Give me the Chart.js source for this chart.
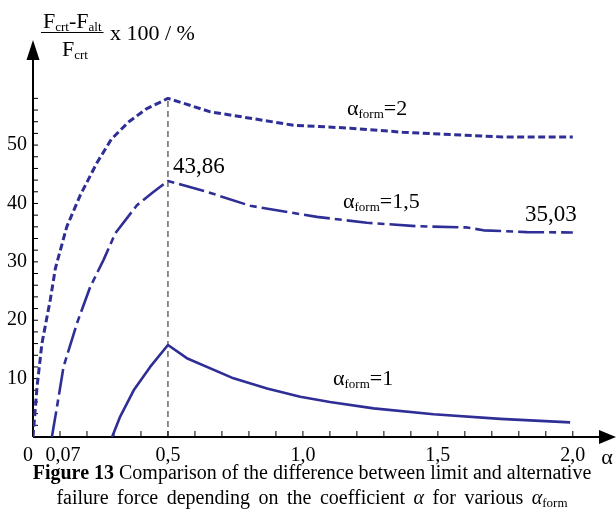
<!DOCTYPE html>
<html>
<head>
<meta charset="utf-8">
<script src="https://cdn.jsdelivr.net/npm/chart.js@4.4.1/dist/chart.umd.min.js"></script>
<style>
  body { margin: 0; background: #fff; }
  #wrap { position: relative; width: 616px; height: 515px; overflow: hidden; }
  #chart { position: absolute; left: 0; top: 0; }
  .caption {
    position: absolute; left: 4px; top: 460px; width: 616px;
    text-align: center; font-family: "Liberation Serif", "Times New Roman", serif;
    font-size: 20px; line-height: 25px; color: #000; white-space: nowrap;
  }
  .caption .l2 { word-spacing: 3.5px; }
  .caption sub { font-size: 13px; vertical-align: -3px; line-height: 0; }
</style>
</head>
<body>
<div id="wrap">
  <canvas id="chart" width="616" height="515"></canvas>
  <div class="caption">
    <b>Figure 13</b> Comparison of the difference between limit and alternative<br>
    <span class="l2">failure force depending on the coefficient <i>α</i> for various <i>α</i><sub>form</sub></span>
  </div>
</div>
<script>
// alpha_form = 1
const form1X = [0.293, 0.323, 0.373, 0.434, 0.5, 0.57, 0.743, 0.867, 0.99, 1.1, 1.262, 1.484, 1.731, 1.99];
const form1Y = [0, 3.5, 8.0, 12.0, 15.75, 13.5, 10.05, 8.3, 6.9, 6.0, 4.9, 3.9, 3.1, 2.5];

// alpha_form = 1,5
const form15X = [0.07, 0.089, 0.113, 0.163, 0.212, 0.261, 0.305, 0.385, 0.447, 0.5, 0.644, 0.805, 1.052, 1.237, 1.422, 1.607, 1.669, 1.83, 2.0];
const form15Y = [0, 5.2, 12.0, 19.5, 25.7, 30.3, 34.9, 39.7, 42.0, 43.86, 42.0, 39.6, 37.7, 36.7, 36.1, 35.9, 35.4, 35.1, 35.03];

// alpha_form = 2
const form2X = [0, 0.015, 0.033, 0.064, 0.083, 0.125, 0.175, 0.236, 0.29, 0.355, 0.42, 0.5, 0.657, 0.805, 0.965, 1.175, 1.37, 1.546, 1.74, 2.0];
const form2Y = [0, 8.6, 16.0, 23.5, 28.9, 36.0, 41.4, 46.9, 51.0, 54.0, 56.2, 58.0, 55.7, 54.6, 53.4, 52.9, 52.2, 51.8, 51.4, 51.4];

const xTickValues = [0.5, 1.0, 1.5, 2.0];
const xTickLabels = ['0,5', '1,0', '1,5', '2,0'];
const yTickValues = [10, 20, 30, 40, 50];

const peakAlpha = 0.5;
const peakLabel = '43,86';
const endLabel = '35,03';

const blue = '#2e2e96';
const serif = '"Liberation Serif", "Times New Roman", serif';

function pts(xs, ys) {
  return xs.map((x, i) => ({ x: x, y: ys[i] }));
}

// alpha with a small "form" subscript, then the rest of the label
function drawAlphaForm(ctx, x, y, rest, size) {
  ctx.textAlign = 'left';
  ctx.textBaseline = 'alphabetic';
  ctx.font = size + 'px ' + serif;
  ctx.fillText('α', x, y);
  let w = ctx.measureText('α').width;
  ctx.font = Math.round(size * 0.58) + 'px ' + serif;
  ctx.fillText('form', x + w, y + 3);
  w += ctx.measureText('form').width;
  ctx.font = size + 'px ' + serif;
  ctx.fillText(rest, x + w, y);
}

function drawSubText(ctx, x, y, parts, size) {
  // parts: [text, isSub]
  let cx = x;
  parts.forEach(p => {
    ctx.font = (p[1] ? Math.round(size * 0.6) : size) + 'px ' + serif;
    ctx.fillText(p[0], cx, p[1] ? y + 3 : y);
    cx += ctx.measureText(p[0]).width;
  });
  return cx - x;
}

const axesPlugin = {
  id: 'axesPlugin',
  beforeDatasetsDraw(chart) {
    const ctx = chart.ctx;
    const xs = chart.scales.x, ys = chart.scales.y;
    const x0 = xs.getPixelForValue(0), y0 = ys.getPixelForValue(0);
    ctx.save();

    // dashed guide at alpha = 0,5
    ctx.strokeStyle = '#444';
    ctx.lineWidth = 1.2;
    ctx.setLineDash([6, 4]);
    ctx.beginPath();
    ctx.moveTo(xs.getPixelForValue(peakAlpha), y0);
    ctx.lineTo(xs.getPixelForValue(peakAlpha), ys.getPixelForValue(58));
    ctx.stroke();
    ctx.setLineDash([]);

    // axes
    ctx.strokeStyle = '#000';
    ctx.fillStyle = '#000';
    ctx.lineWidth = 2;
    ctx.beginPath();
    ctx.moveTo(x0, y0);
    ctx.lineTo(chart.chartArea.right - 14, y0);
    ctx.moveTo(x0, y0);
    ctx.lineTo(x0, chart.chartArea.top + 18);
    ctx.stroke();

    // arrow heads
    const r = chart.chartArea.right;
    ctx.beginPath();
    ctx.moveTo(r, y0);
    ctx.lineTo(r - 17, y0 - 7);
    ctx.lineTo(r - 17, y0 + 7);
    ctx.closePath();
    ctx.fill();
    const t = chart.chartArea.top;
    ctx.beginPath();
    ctx.moveTo(x0, t);
    ctx.lineTo(x0 - 6.5, t + 20);
    ctx.lineTo(x0 + 6.5, t + 20);
    ctx.closePath();
    ctx.fill();

    // minor ticks
    ctx.lineWidth = 1;
    ctx.beginPath();
    for (let i = 1; i <= 20; i++) {
      const px = xs.getPixelForValue(i / 10);
      ctx.moveTo(px, y0);
      ctx.lineTo(px, y0 - 6);
    }
    for (let v = 2; v <= 58; v += 2) {
      const py = ys.getPixelForValue(v);
      ctx.moveTo(x0, py);
      ctx.lineTo(x0 + 5, py);
    }
    ctx.stroke();

    // tick labels
    ctx.font = '20px ' + serif;
    ctx.textBaseline = 'middle';
    ctx.textAlign = 'center';
    xTickValues.forEach((v, i) => {
      ctx.fillText(xTickLabels[i], xs.getPixelForValue(v), y0 + 19);
    });
    ctx.fillText('0', x0 - 5, y0 + 19);
    ctx.fillText('0,07', xs.getPixelForValue(0.07) + 11, y0 + 19);
    ctx.font = '22px ' + serif;
    ctx.fillText('α', 607, y0 + 21);

    ctx.font = '20px ' + serif;
    ctx.textAlign = 'right';
    yTickValues.forEach(v => {
      ctx.fillText(String(v), x0 - 6, ys.getPixelForValue(v));
    });

    // y axis title as a fraction
    ctx.textAlign = 'left';
    ctx.textBaseline = 'alphabetic';
    const numW = drawSubText(ctx, 43, 28, [['F', 0], ['crt', 1], ['-F', 0], ['alt', 1]], 22);
    ctx.lineWidth = 1;
    ctx.beginPath();
    ctx.moveTo(41, 32.5);
    ctx.lineTo(43 + numW + 2, 32.5);
    ctx.stroke();
    drawSubText(ctx, 62, 56, [['F', 0], ['crt', 1]], 22);
    ctx.font = '22px ' + serif;
    ctx.fillText('x 100 / %', 110, 40);

    ctx.restore();
  },
  afterDatasetsDraw(chart) {
    const ctx = chart.ctx;
    const xs = chart.scales.x, ys = chart.scales.y;
    ctx.save();
    ctx.fillStyle = '#000';
    ctx.font = '23px ' + serif;
    ctx.textAlign = 'left';
    ctx.textBaseline = 'alphabetic';
    ctx.fillText(peakLabel, xs.getPixelForValue(peakAlpha) + 5, ys.getPixelForValue(43.86) - 8);
    ctx.textAlign = 'right';
    ctx.fillText(endLabel, xs.getPixelForValue(2.0) + 4, ys.getPixelForValue(35.03) - 11);

    drawAlphaForm(ctx, 347, 115, '=2', 22);
    drawAlphaForm(ctx, 343, 208, '=1,5', 22);
    drawAlphaForm(ctx, 333, 385, '=1', 22);
    ctx.restore();
  }
};

new Chart(document.getElementById('chart'), {
  type: 'line',
  data: {
    datasets: [
      {
        label: 'αform=1',
        data: pts(form1X, form1Y),
        borderColor: blue,
        borderWidth: 2.6
      },
      {
        label: 'αform=1,5',
        data: pts(form15X, form15Y),
        borderColor: blue,
        borderWidth: 2.6,
        borderDash: [26, 5, 7, 5]
      },
      {
        label: 'αform=2',
        data: pts(form2X, form2Y),
        borderColor: blue,
        borderWidth: 3,
        borderDash: [7, 3.5]
      }
    ]
  },
  options: {
    responsive: false,
    animation: false,
    layout: { padding: { left: 33, right: 0, top: 40, bottom: 78 } },
    elements: { point: { radius: 0 }, line: { tension: 0, borderJoinStyle: 'round' } },
    plugins: { legend: { display: false }, tooltip: { enabled: false } },
    scales: {
      x: { type: 'linear', min: 0, max: 2.16, display: false },
      y: { type: 'linear', min: 0, max: 68, display: false }
    }
  },
  plugins: [axesPlugin]
});
</script>
</body>
</html>
